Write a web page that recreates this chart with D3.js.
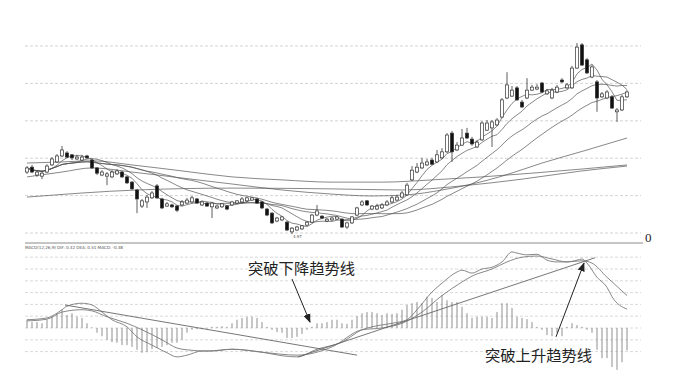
<!DOCTYPE html>
<html lang="zh">
<head>
<meta charset="UTF-8">
<title>K线与MACD趋势线突破</title>
<script src="https://cdn.jsdelivr.net/npm/d3@7"></script>
<style>
  body { margin: 0; background: #fff; }
  svg { display: block; }
</style>
</head>
<body>
<svg id="chart" width="683" height="384"></svg>
<script>
// ---- K线数据 ----
const opens = [
  6.63, 6.76, 6.55, 6.52, 6.63, 6.82, 6.90, 7.06, 7.14, 7.09,
  6.98, 6.95, 7.06, 6.95, 6.74, 6.55, 6.52, 6.50, 6.58, 6.63,
  6.50, 6.36, 6.15, 5.72, 5.83, 5.94, 6.26, 5.91, 5.72, 5.75,
  5.72, 5.75, 5.80, 5.83, 5.91, 5.75, 5.80, 5.70, 5.67, 5.70,
  5.72, 5.75, 5.80, 5.83, 5.86, 5.88, 5.91, 5.83, 5.64, 5.53,
  5.32, 5.35, 5.29, 5.03, 5.08, 5.11, 5.21, 5.29, 5.48, 5.45,
  5.32, 5.35, 5.37, 5.37, 5.16, 5.27, 5.48, 5.75, 5.86, 5.64,
  5.64, 5.67, 5.75, 5.83, 5.88, 5.96, 6.02, 6.42, 6.63, 6.74,
  6.82, 6.95, 6.90, 7.01, 7.17, 7.67, 7.22, 7.35, 7.67, 7.51,
  7.30, 7.49, 7.75, 7.81, 7.89, 8.10, 8.61, 8.66, 8.88, 8.50,
  8.61, 8.82, 8.85, 9.01, 8.72, 8.61, 8.77, 9.09, 8.88, 8.88,
  9.41, 10.03, 9.63, 9.17, 9.04, 8.64, 8.61, 8.64, 8.24, 8.29,
  8.64
];
const highs = [
  6.79, 6.82, 6.68, 6.66, 6.84, 7.03, 7.11, 7.33, 7.19, 7.11,
  7.09, 7.09, 7.09, 6.98, 6.76, 6.68, 6.63, 6.68, 6.71, 6.66,
  6.52, 6.39, 6.18, 5.91, 6.02, 6.12, 6.31, 5.94, 5.83, 5.78,
  5.75, 5.88, 5.94, 5.99, 5.94, 5.86, 5.83, 5.83, 5.75, 5.80,
  5.75, 5.86, 5.88, 5.96, 5.96, 5.96, 5.94, 5.86, 5.67, 5.56,
  5.43, 5.45, 5.32, 5.16, 5.19, 5.21, 5.32, 5.51, 5.75, 5.48,
  5.40, 5.43, 5.45, 5.40, 5.29, 5.45, 5.70, 5.88, 5.88, 5.75,
  5.78, 5.80, 5.88, 5.99, 6.02, 6.12, 6.34, 6.79, 6.87, 7.01,
  6.98, 7.01, 7.22, 7.27, 7.67, 7.73, 7.43, 7.78, 7.81, 7.57,
  7.49, 7.99, 8.02, 8.02, 8.07, 8.61, 9.30, 8.93, 8.93, 8.56,
  9.14, 8.96, 8.98, 9.04, 8.85, 8.88, 8.96, 9.14, 9.01, 9.47,
  10.08, 10.08, 9.68, 9.49, 9.09, 8.77, 8.82, 8.69, 8.34, 8.69,
  8.82
];
const lows = [
  6.58, 6.60, 6.50, 6.44, 6.60, 6.79, 6.87, 7.03, 7.01, 6.95,
  6.95, 6.93, 6.98, 6.71, 6.55, 6.52, 6.28, 6.47, 6.55, 6.47,
  6.31, 6.15, 5.53, 5.67, 5.67, 5.91, 5.91, 5.64, 5.70, 5.67,
  5.56, 5.72, 5.78, 5.80, 5.78, 5.72, 5.70, 5.40, 5.64, 5.67,
  5.61, 5.72, 5.78, 5.80, 5.83, 5.86, 5.78, 5.64, 5.45, 5.24,
  5.29, 5.32, 5.05, 4.97, 5.05, 5.08, 5.19, 5.27, 5.45, 5.37,
  5.29, 5.32, 5.35, 5.13, 5.11, 5.24, 5.45, 5.72, 5.72, 5.61,
  5.61, 5.64, 5.72, 5.80, 5.86, 5.94, 5.99, 6.39, 6.60, 6.71,
  6.79, 6.82, 6.87, 6.98, 7.14, 6.90, 7.19, 7.33, 7.51, 7.33,
  7.27, 7.46, 7.73, 7.30, 7.86, 8.07, 8.58, 8.64, 8.53, 8.34,
  8.58, 8.80, 8.82, 8.74, 8.69, 8.58, 8.74, 9.01, 8.85, 8.85,
  9.39, 9.47, 9.25, 9.14, 8.24, 8.61, 8.58, 8.32, 7.97, 8.26,
  8.61
];
const closes = [
  6.74, 6.63, 6.63, 6.60, 6.79, 6.98, 7.06, 7.22, 7.03, 7.01,
  7.03, 7.03, 7.01, 6.74, 6.60, 6.63, 6.58, 6.63, 6.66, 6.50,
  6.34, 6.18, 5.91, 5.86, 5.96, 6.07, 5.94, 5.67, 5.78, 5.70,
  5.61, 5.83, 5.88, 5.94, 5.80, 5.83, 5.72, 5.80, 5.72, 5.78,
  5.64, 5.83, 5.86, 5.91, 5.94, 5.94, 5.80, 5.67, 5.48, 5.27,
  5.40, 5.43, 5.08, 5.13, 5.16, 5.19, 5.29, 5.48, 5.59, 5.40,
  5.37, 5.40, 5.43, 5.16, 5.27, 5.43, 5.67, 5.83, 5.75, 5.72,
  5.72, 5.75, 5.83, 5.94, 5.96, 6.07, 6.28, 6.68, 6.76, 6.87,
  6.90, 6.84, 7.09, 7.17, 7.62, 7.17, 7.35, 7.54, 7.54, 7.38,
  7.43, 7.94, 7.94, 7.97, 8.02, 8.56, 8.96, 8.82, 8.56, 8.37,
  8.82, 8.90, 8.90, 8.77, 8.80, 8.82, 8.90, 9.04, 8.96, 9.41,
  9.97, 9.49, 9.28, 9.44, 8.61, 8.72, 8.77, 8.34, 8.29, 8.64,
  8.77
];

// 长周期均线（从图上读取的取样点：[K线序号, 价格]）
const ma60Pts = [[0, 6.50], [7, 6.63], [13, 6.74], [21, 6.63], [31, 6.47], [41, 6.31], [51, 6.15],
  [61, 6.04], [69, 5.99], [76, 6.02], [83, 6.15], [89, 6.31], [95, 6.52], [103, 6.87], [112, 7.22], [120, 7.54]];
const ma120Pts = [[0, 6.87], [7, 6.90], [13, 6.93], [21, 6.82], [31, 6.66], [41, 6.50], [51, 6.42],
  [61, 6.36], [71, 6.36], [81, 6.42], [91, 6.50], [101, 6.60], [111, 6.71], [120, 6.82]];
const ma250Pts = [[0, 5.96], [22, 6.15], [41, 6.20], [61, 6.18], [75, 6.15], [87, 6.26], [99, 6.44],
  [111, 6.66], [120, 6.79]];

// ---- MACD ----
const macdHist = [
  0.14, 0.10, 0.10, 0.08, 0.14, 0.19, 0.24, 0.31, 0.22, 0.25,
  0.19, 0.17, 0.08, 0.01, -0.08, -0.14, -0.20, -0.24, -0.25, -0.29,
  -0.29, -0.32, -0.37, -0.42, -0.41, -0.36, -0.34, -0.32, -0.29, -0.25,
  -0.25, -0.20, -0.08, -0.03, -0.02, -0.02, -0.01, 0.02, 0.02, 0.03,
  0.02, 0.08, 0.14, 0.17, 0.19, 0.19, 0.17, 0.10, 0.02, -0.03,
  -0.07, -0.08, -0.17, -0.17, -0.15, -0.10, -0.03, 0.02, 0.08, 0.08,
  0.10, 0.14, 0.14, 0.08, 0.07, 0.14, 0.20, 0.25, 0.27, 0.27,
  0.25, 0.22, 0.25, 0.24, 0.25, 0.31, 0.39, 0.42, 0.44, 0.42,
  0.53, 0.51, 0.44, 0.56, 0.47, 0.44, 0.44, 0.36, 0.25, 0.17,
  0.19, 0.19, 0.19, 0.17, 0.27, 0.42, 0.42, 0.34, 0.19, 0.17,
  0.15, 0.10, 0.02, -0.03, -0.12, -0.14, -0.08, -0.14, 0.02, 0.08,
  0.05, 0.02, -0.03, -0.08, -0.37, -0.51, -0.51, -0.66, -0.71, -0.58,
  -0.38
];
const difPts = [[0, 0.14], [4, 0.17], [7, 0.31], [8, 0.37], [11, 0.42], [13, 0.39], [15, 0.27], [17, 0.14],
  [20, 0.02], [22, -0.15], [25, -0.29], [28, -0.42], [30, -0.49], [32, -0.46], [35, -0.39], [37, -0.39],
  [41, -0.36], [47, -0.41], [51, -0.47], [54, -0.49], [58, -0.36], [63, -0.24], [67, -0.03], [69, 0.02],
  [73, 0.08], [76, 0.14], [78, 0.31], [81, 0.61], [83, 0.76], [86, 0.95], [87, 0.98], [89, 0.93],
  [91, 1.00], [93, 1.03], [95, 1.12], [97, 1.29], [98, 1.27], [100, 1.24], [102, 1.25], [104, 1.15],
  [106, 1.12], [108, 1.12], [110, 1.15], [111, 1.17], [112, 1.10], [114, 0.86], [116, 0.69], [117, 0.53],
  [120, 0.32]];
const deaPts = [[0, 0.12], [4, 0.15], [7, 0.27], [11, 0.31], [13, 0.29], [16, 0.19], [20, 0.08], [23, -0.03],
  [27, -0.20], [30, -0.34], [32, -0.37], [36, -0.39], [41, -0.36], [47, -0.41], [54, -0.46], [61, -0.32],
  [67, -0.03], [71, 0.00], [75, 0.08], [79, 0.27], [83, 0.55], [87, 0.78], [89, 0.88], [93, 1.00],
  [96, 1.12], [99, 1.20], [102, 1.22], [105, 1.17], [108, 1.12], [111, 1.14], [113, 1.10], [116, 0.86],
  [120, 0.55]];

// 手绘趋势线与箭头（数据坐标：[序号, MACD值]）
const downTrend = [[7.6, 0.39], [66, -0.46]];
const upTrend = [[54.2, -0.49], [113.6, 1.19]];
const arrows = [
  { from: [53, 0.83], to: [56.6, 0.10] },
  { from: [105.8, -0.15], to: [111.4, 1.10] }
];
const labels = ["突破下降趋势线", "突破上升趋势线"];
const priceTicks = [5, 6, 7, 8, 9, 10];
const macdTicks = [-0.4, -0.2, 0, 0.2, 0.4, 0.6, 0.8, 1.0, 1.2];
const macdTitle = "MACD(12,26,9) DIF: 0.32 DEA: 0.51 MACD: -0.38";

// ---- 比例尺 ----
const svg = d3.select("#chart");
const x = d3.scaleLinear().domain([0, 120]).range([27, 627]);
const y = d3.scaleLinear().domain([5, 10]).range([233, 46]);
const ym = d3.scaleLinear().domain([-0.4, 1.2]).range([351.6, 257.2]);

const left = 25, right = 641;

// 网格虚线
svg.append("g").selectAll("line").data(priceTicks).join("line")
  .attr("x1", left).attr("x2", right)
  .attr("y1", d => y(d)).attr("y2", d => y(d))
  .attr("stroke", "#c8c8c8").attr("stroke-width", 0.8).attr("stroke-dasharray", "3,2");
svg.append("g").selectAll("line").data(macdTicks).join("line")
  .attr("x1", left).attr("x2", right)
  .attr("y1", d => ym(d)).attr("y2", d => ym(d))
  .attr("stroke", "#cfcfcf").attr("stroke-width", 0.8).attr("stroke-dasharray", "3,2");

// 分隔线
svg.append("line").attr("x1", left).attr("x2", 643).attr("y1", 243).attr("y2", 243)
  .attr("stroke", "#8a8a8a").attr("stroke-width", 1);
svg.append("text").attr("x", 645).attr("y", 242).text("0")
  .attr("font-family", "Liberation Serif, serif").attr("font-size", 13).attr("fill", "#222");
svg.append("text").attr("x", left).attr("y", 249).text(macdTitle)
  .attr("font-family", "DejaVu Sans, sans-serif").attr("font-size", 4.2)
  .attr("textLength", 98).attr("fill", "#555");

// ---- 均线 ----
function movingAvg(vals, n) {
  return vals.map((v, i) => d3.mean(vals.slice(Math.max(0, i - n + 1), i + 1)));
}
const maLine = d3.line().x((d, i) => x(i)).y(d => y(d));
[5, 10, 20, 30].forEach(n => {
  svg.append("path").attr("d", maLine(movingAvg(closes, n)))
    .attr("fill", "none").attr("stroke", "#555").attr("stroke-width", 0.7);
});
const ptLine = d3.line().x(d => x(d[0])).y(d => y(d[1])).curve(d3.curveMonotoneX);
[ma60Pts, ma120Pts, ma250Pts].forEach(pts => {
  svg.append("path").attr("d", ptLine(pts))
    .attr("fill", "none").attr("stroke", "#555").attr("stroke-width", 0.7);
});

// ---- K线 ----
const candles = closes.map((c, i) => ({ i, o: opens[i], h: highs[i], l: lows[i], c }));
const cg = svg.append("g");
cg.selectAll("line").data(candles).join("line")
  .attr("x1", d => x(d.i)).attr("x2", d => x(d.i))
  .attr("y1", d => y(d.h)).attr("y2", d => y(d.l))
  .attr("stroke", "#333").attr("stroke-width", 0.8);
cg.selectAll("rect").data(candles).join("rect")
  .attr("x", d => x(d.i) - 1.6).attr("width", 3.2)
  .attr("y", d => y(Math.max(d.o, d.c)))
  .attr("height", d => Math.max(0.8, Math.abs(y(d.o) - y(d.c))))
  .attr("fill", d => d.c >= d.o ? "#fff" : "#111")
  .attr("stroke", "#333").attr("stroke-width", 0.7);

// 最低价标注
const lowIdx = d3.minIndex(lows);
svg.append("text").attr("x", x(lowIdx) + 1).attr("y", y(lows[lowIdx]) + 4)
  .text(lows[lowIdx].toFixed(2)).attr("font-size", 4).attr("fill", "#555")
  .attr("font-family", "DejaVu Sans, sans-serif");

// ---- MACD 柱 ----
svg.append("g").selectAll("line").data(macdHist).join("line")
  .attr("x1", (d, i) => x(i)).attr("x2", (d, i) => x(i))
  .attr("y1", ym(0)).attr("y2", d => ym(d))
  .attr("stroke", "#8f8f8f").attr("stroke-width", 1);

const mLine = d3.line().x(d => x(d[0])).y(d => ym(d[1])).curve(d3.curveMonotoneX);
[difPts, deaPts].forEach(pts => {
  svg.append("path").attr("d", mLine(pts))
    .attr("fill", "none").attr("stroke", "#7a7a7a").attr("stroke-width", 0.9);
});
const straight = d3.line().x(d => x(d[0])).y(d => ym(d[1]));
[downTrend, upTrend].forEach(pts => {
  svg.append("path").attr("d", straight(pts))
    .attr("fill", "none").attr("stroke", "#666").attr("stroke-width", 0.9);
});

// 箭头
svg.append("defs").append("marker")
  .attr("id", "arrow").attr("viewBox", "0 0 10 10")
  .attr("refX", 9).attr("refY", 5)
  .attr("markerWidth", 9).attr("markerHeight", 9)
  .attr("orient", "auto")
  .append("path").attr("d", "M0,1 L10,5 L0,9 Z").attr("fill", "#222");
svg.append("g").selectAll("line").data(arrows).join("line")
  .attr("x1", d => x(d.from[0])).attr("y1", d => ym(d.from[1]))
  .attr("x2", d => x(d.to[0])).attr("y2", d => ym(d.to[1]))
  .attr("stroke", "#222").attr("stroke-width", 1)
  .attr("marker-end", "url(#arrow)");

// 文字标注
const labelFont = "Noto Sans CJK SC, sans-serif";
svg.append("text").attr("x", 248).attr("y", 274).text(labels[0])
  .attr("font-family", labelFont).attr("font-size", 15.3).attr("fill", "#222");
svg.append("text").attr("x", 485).attr("y", 361).text(labels[1])
  .attr("font-family", labelFont).attr("font-size", 15.3).attr("fill", "#222");
</script>
</body>
</html>
